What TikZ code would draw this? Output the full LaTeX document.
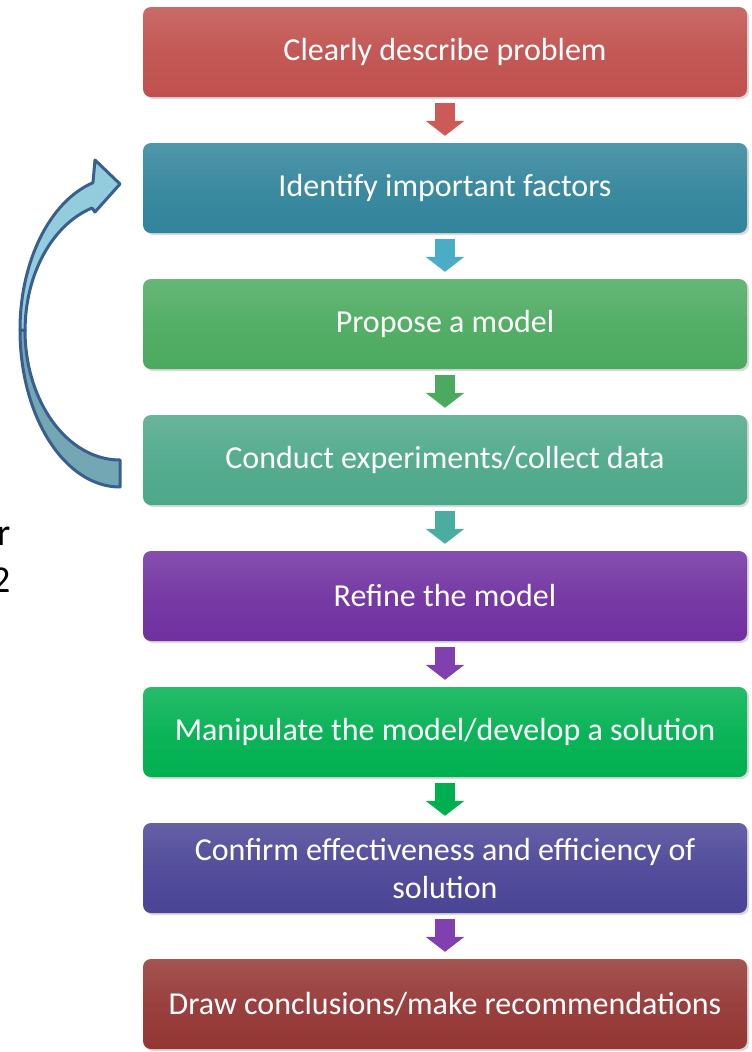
\documentclass[tikz,border=0pt]{standalone}
\usepackage{fontspec}
\setmainfont{Carlito}
\usetikzlibrary{arrows.meta, shadows}

\definecolor{boxRed}{HTML}{C0504D}
\definecolor{boxTeal}{HTML}{31849B}
\definecolor{boxGreen}{HTML}{4BAA5F}
\definecolor{boxSea}{HTML}{4DA88A}
\definecolor{boxPurple}{HTML}{7030A0}
\definecolor{boxBright}{HTML}{00B050}
\definecolor{boxIndigo}{HTML}{4A4496}
\definecolor{boxDark}{HTML}{943634}
\definecolor{arrRed}{HTML}{CC5A57}
\definecolor{arrBlue}{HTML}{4BACC6}
\definecolor{arrTeal}{HTML}{4BACA0}
\definecolor{arrPurple}{HTML}{8040B0}
\definecolor{loopLine}{HTML}{3A5F8E}
\definecolor{loopTop}{HTML}{93CDDD}
\definecolor{loopBottom}{HTML}{73A7B3}

\tikzset{
  stepbox/.style={rounded corners=8pt, minimum width=604pt, minimum height=90pt,
    inner sep=0pt, text=white, align=center,
    font=\fontsize{32}{38}\selectfont,
    top color=#1!85!white, bottom color=#1, middle color=#1!95!white,
    drop shadow={opacity=0.3, shadow xshift=2pt, shadow yshift=-2pt}},
  flowarrow/.style={draw=#1, line width=20pt,
    -{Triangle[length=15pt, width=38pt]}, shorten <=6pt, shorten >=7pt}
}

\begin{document}
\begin{tikzpicture}[x=1pt, y=-1pt]
  \useasboundingbox (0,0) rectangle (752,1052);

  \node[stepbox=boxRed] (b1) at (445,52) {Clearly describe problem};
  \node[stepbox=boxTeal] (b2) at (445,188) {Identify important factors};
  \node[stepbox=boxGreen] (b3) at (445,324) {Propose a model};
  \node[stepbox=boxSea] (b4) at (445,460) {Conduct experiments/collect data};
  \node[stepbox=boxPurple] (b5) at (445,596) {Refine the model};
  \node[stepbox=boxBright] (b6) at (445,732) {Manipulate the model/develop a solution};
  \node[stepbox=boxIndigo] (b7) at (445,868) {Confirm effectiveness and efficiency of\\solution};
  \node[stepbox=boxDark] (b8) at (445,1004) {Draw conclusions/make recommendations};

  \foreach \From/\To/\Col in {b1/b2/arrRed, b2/b3/arrBlue, b3/b4/boxGreen,
      b4/b5/arrTeal, b5/b6/arrPurple, b6/b7/boxBright, b7/b8/arrPurple}{
    \draw[flowarrow=\Col] (\From.south) -- (\To.north);
  }

  % loop back arrow
  \filldraw[fill=loopBottom, draw=loopLine, line width=3pt, line join=round]
    (20,330) arc[start angle=180, end angle=90, x radius=100, y radius=157]
    -- (120,460) arc[start angle=90, end angle=180, x radius=95, y radius=130] -- cycle;
  \filldraw[fill=loopTop, draw=loopLine, line width=3pt, line join=round]
    (20,330) arc[start angle=180, end angle=254.3, x radius=100, y radius=153]
    -- (95,160) -- (120,184) -- (95,212) -- (92,208)
    arc[start angle=252.8, end angle=180, x radius=95, y radius=128] -- cycle;

  \node[anchor=base east, font=\fontsize{38}{40}\selectfont] (cutA) at (14,545) {r};
  \node[anchor=base east, font=\fontsize{38}{40}\selectfont] (cutB) at (14,592) {2};
\end{tikzpicture}
\end{document}
